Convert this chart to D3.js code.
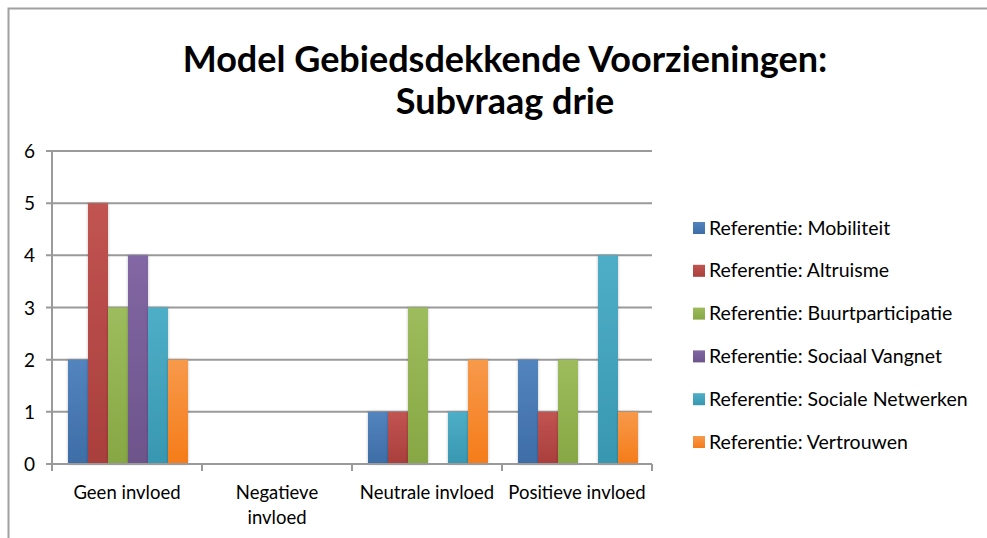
<!DOCTYPE html>
<html>
<head>
<meta charset="utf-8">
<script src="https://cdn.jsdelivr.net/npm/d3@7"></script>
<style>
  body { margin: 0; background: #fff; }
  svg { display: block; font-family: Lato, "Open Sans", sans-serif; }
</style>
</head>
<body>
<div id="chart"></div>
<script>
// categories along the x axis and the six series
const categories = ["Geen invloed", "Negatieve invloed", "Neutrale invloed", "Positieve invloed"];
const seriesNames = [
    "Referentie: Mobiliteit",
    "Referentie: Altruisme",
    "Referentie: Buurtparticipatie",
    "Referentie: Sociaal Vangnet",
    "Referentie: Sociale Netwerken",
    "Referentie: Vertrouwen"
];
const mobiliteit = [2, 0, 1, 2];
const altruisme = [5, 0, 1, 1];
const buurtparticipatie = [3, 0, 3, 2];
const sociaalVangnet = [4, 0, 0, 0];
const socialeNetwerken = [3, 0, 1, 4];
const vertrouwen = [2, 0, 2, 1];
const yTicks = [0, 1, 2, 3, 4, 5, 6];
const seriesColors = ["#4F81BD", "#C0504D", "#9BBB59", "#8064A2", "#4BACC6", "#F79646"];

const allSeries = [mobiliteit, altruisme, buurtparticipatie, sociaalVangnet, socialeNetwerken, vertrouwen];

const width = 987, height = 538;
const margin = {left: 52, right: 335, top: 151, bottom: 74};
const plotW = width - margin.left - margin.right;
const plotH = height - margin.top - margin.bottom;

let svg = d3.select("#chart").append("svg")
    .attr("width", width)
    .attr("height", height);

// gradients for the bars, light on top, darker at the base
let defs = svg.append("defs");
seriesColors.forEach(function(c, i) {
    let g = defs.append("linearGradient")
        .attr("id", "grad-" + i)
        .attr("x1", 0).attr("y1", 0).attr("x2", 0).attr("y2", 1);
    g.append("stop").attr("offset", "0%").attr("stop-color", d3.hsl(c).brighter(0.05));
    g.append("stop").attr("offset", "100%").attr("stop-color", d3.hsl(c).darker(0.45));
});
let shadow = defs.append("filter").attr("id", "shadow")
    .attr("x", "-30%").attr("y", "-10%").attr("width", "160%").attr("height", "130%");
shadow.append("feDropShadow").attr("dx", 0).attr("dy", 0).attr("stdDeviation", 1.5)
    .attr("flood-color", "#000").attr("flood-opacity", 0.25);

// chart frame (only top and left edges visible)
svg.append("path")
    .attr("d", `M8.5,${height} L8.5,8.5 L${width},8.5`)
    .attr("fill", "none")
    .attr("stroke", "#a0a0a0")
    .attr("stroke-width", 2);

// title
let title = svg.append("text")
    .attr("x", 505)
    .attr("text-anchor", "middle")
    .style("font-size", "36px")
    .style("font-weight", 700);
title.append("tspan").attr("x", 505).attr("y", 72).text("Model Gebiedsdekkende Voorzieningen:");
title.append("tspan").attr("x", 505).attr("y", 114).text("Subvraag drie");

let plot = svg.append("g")
    .attr("transform", `translate(${margin.left}, ${margin.top})`);

let x0 = d3.scaleBand()
    .domain(categories)
    .range([0, plotW])
    .paddingInner(0)
    .paddingOuter(0);

let x1 = d3.scaleBand()
    .domain(d3.range(seriesNames.length))
    .range([16, x0.bandwidth() - 14])
    .padding(0);

let y = d3.scaleLinear()
    .domain([0, 6])
    .range([plotH, 0]);

// gridlines
plot.append("g")
    .selectAll("line")
    .data(yTicks)
    .enter()
    .append("line")
    .attr("x1", -6)
    .attr("x2", plotW)
    .attr("y1", d => y(d))
    .attr("y2", d => y(d))
    .attr("stroke", "#9a9a9a")
    .attr("stroke-width", 2);

// y axis line
plot.append("line")
    .attr("x1", 0).attr("x2", 0)
    .attr("y1", 0).attr("y2", plotH)
    .attr("stroke", "#9a9a9a")
    .attr("stroke-width", 2);

// y tick labels
plot.append("g")
    .selectAll("text")
    .data(yTicks)
    .enter()
    .append("text")
    .attr("x", -17)
    .attr("y", d => y(d) + 7)
    .attr("text-anchor", "end")
    .style("font-size", "19px")
    .text(d => d);

// bars
let groups = plot.append("g")
    .selectAll("g")
    .data(categories)
    .enter()
    .append("g")
    .attr("transform", d => `translate(${x0(d)}, 0)`);

groups.selectAll("rect")
    .data((d, ci) => allSeries.map((s, si) => ({si: si, v: s[ci]})))
    .enter()
    .append("rect")
    .filter(d => d.v > 0)
    .attr("x", d => x1(d.si))
    .attr("y", d => y(d.v))
    .attr("width", x1.bandwidth())
    .attr("height", d => y(0) - y(d.v))
    .attr("fill", d => `url(#grad-${d.si})`)
    .attr("filter", "url(#shadow)");

// x axis line and category ticks
plot.append("line")
    .attr("x1", 0).attr("x2", plotW)
    .attr("y1", plotH).attr("y2", plotH)
    .attr("stroke", "#9a9a9a")
    .attr("stroke-width", 2);

let xTickPos = categories.map(c => x0(c)).concat([plotW]);
plot.append("g")
    .selectAll("line")
    .data(xTickPos)
    .enter()
    .append("line")
    .attr("x1", d => d).attr("x2", d => d)
    .attr("y1", plotH).attr("y2", plotH + 7)
    .attr("stroke", "#9a9a9a")
    .attr("stroke-width", 2);

// category labels, wrapped like the original
const labelLines = {
    "Geen invloed": ["Geen invloed"],
    "Negatieve invloed": ["Negatieve", "invloed"],
    "Neutrale invloed": ["Neutrale invloed"],
    "Positieve invloed": ["Positieve invloed"]
};
let catLabels = plot.append("g")
    .selectAll("text")
    .data(categories)
    .enter()
    .append("text")
    .attr("text-anchor", "middle")
    .style("font-size", "18.5px");
catLabels.each(function(c) {
    let t = d3.select(this);
    labelLines[c].forEach(function(line, i) {
        t.append("tspan")
            .attr("x", x0(c) + x0.bandwidth() / 2)
            .attr("y", plotH + 35 + i * 25)
            .text(line);
    });
});

// legend
let legend = svg.append("g")
    .selectAll("g")
    .data(seriesNames)
    .enter()
    .append("g")
    .attr("transform", (d, i) => `translate(693, ${228 + i * 42.8})`);

legend.append("rect")
    .attr("x", 0)
    .attr("y", -6)
    .attr("width", 12)
    .attr("height", 12)
    .attr("fill", (d, i) => `url(#grad-${i})`);

legend.append("text")
    .attr("x", 16)
    .attr("y", 6.5)
    .style("font-size", "19.5px")
    .text(d => d);
</script>
</body>
</html>
